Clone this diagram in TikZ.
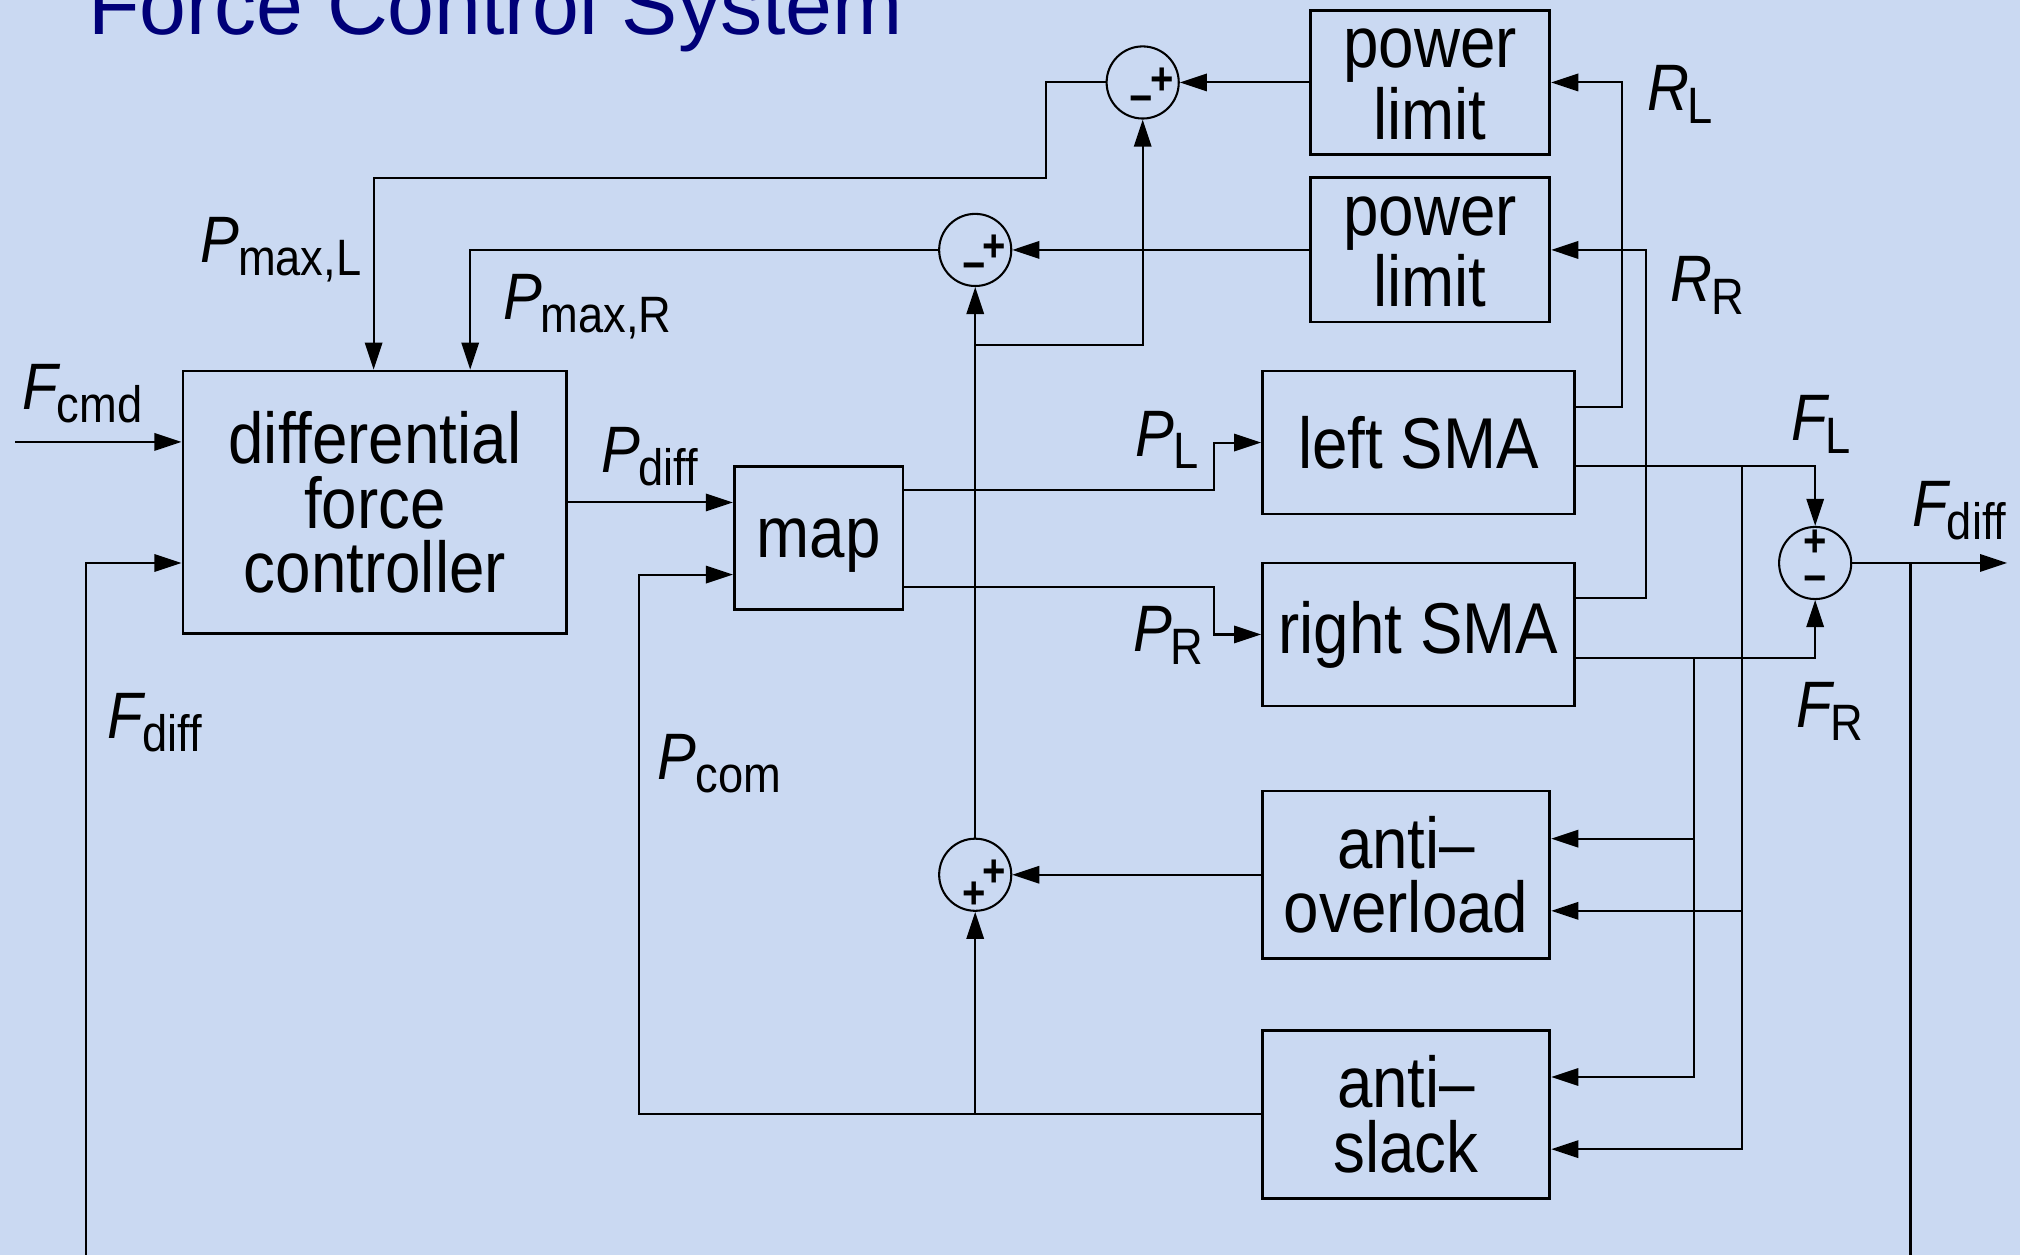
\documentclass[tikz,border=0pt]{standalone}
\usepackage{fontspec}
\newfontfamily\narrowfont{Liberation Sans}[FakeStretch=0.885]
\newfontfamily\titlefont{Liberation Sans}
\usetikzlibrary{arrows.meta,calc}
\definecolor{bgblue}{RGB}{202,217,242}
\definecolor{navy}{RGB}{0,0,120}
\newcommand\sg[2]{{\itshape #1}\kern-0.02em\raisebox{-1mm}{\fontsize{11.3}{11}\selectfont #2}}
\begin{document}
\begin{tikzpicture}[x=0.1mm,y=-0.1mm,
  blk/.style={draw, line width=0.22mm, rectangle, inner sep=0pt, align=center,
    font=\narrowfont\fontsize{15.9}{14.3}\selectfont},
  sumc/.style={draw, circle, line width=0.16mm, minimum size=5.6mm, inner sep=0pt},
  sgn/.style={inner sep=0pt, font=\narrowfont\bfseries\fontsize{10}{10}\selectfont},
  arr/.style={line width=0.16mm, -{Triangle[length=2.1mm,width=1.35mm]}},
  lbl/.style={anchor=base west, inner sep=0pt, font=\narrowfont\fontsize{14.5}{14}\selectfont}
]
\useasboundingbox (0,0) rectangle (1568,974);
\fill[bgblue] (0,0) rectangle (1568,974);
\clip (0,0) rectangle (1568,974);

% title
\node[anchor=base west, inner sep=0pt, text=navy, font=\titlefont\fontsize{18.6}{20}\selectfont] (title) at (68,27) {Force Control System};

% blocks
\node[blk, minimum width=29.8mm, minimum height=20.4mm] (dfc) at (291,390) {differential\\force\\controller};
\node[blk, minimum width=13.1mm, minimum height=11.1mm, text depth=0pt] (map) at (635.5,417.5) {map};
\node[blk, minimum width=18.6mm, minimum height=11.2mm, text height=8.9mm] (pl1) at (1110,64) {power\\limit};
\node[blk, minimum width=18.6mm, minimum height=11.2mm, text height=8.9mm] (pl2) at (1110,194) {power\\limit};
\node[blk, minimum width=24.2mm, minimum height=11.1mm] (lsma) at (1101,343.5) {left SMA};
\node[blk, minimum width=24.2mm, minimum height=11.1mm] (rsma) at (1101,492.5) {right SMA};
\node[blk, minimum width=22.3mm, minimum height=13mm] (aol) at (1091.5,679) {anti–\\overload};
\node[blk, minimum width=22.3mm, minimum height=13mm] (asl) at (1091.5,865) {anti–\\slack};

% summing junctions
\node[sumc] (s1) at (887,64) {};
\node[sumc] (s2) at (757,194) {};
\node[sumc] (s3) at (757,679) {};
\node[sumc] (s4) at (1409,437) {};
\node[sgn] (s1p) at ($(s1)+(15,-1)$) {+};
\node[sgn] (s1m) at ($(s1)+(-1,17)$) {−};
\node[sgn] (s2p) at ($(s2)+(15,-1)$) {+};
\node[sgn] (s2m) at ($(s2)+(-1,17)$) {−};
\node[sgn] (s3p) at ($(s3)+(15,-1)$) {+};
\node[sgn] (s3q) at ($(s3)+(-1,16)$) {+};
\node[sgn] (s4p) at ($(s4)+(0,-15)$) {+};
\node[sgn] (s4m) at ($(s4)+(0,17)$) {−};

% coordinates
\coordinate (fcmdin) at (12,343);
\coordinate (pcom) at (496,446);
\coordinate (j1) at (757,268);
\coordinate (fout) at (1558,437);
\coordinate (fbr) at (1483,437);
\coordinate (fbot) at (1483,1010);
\coordinate (fleft) at (67,1010);
\coordinate (fbin) at ($(dfc.west)+(0,47)$);
\coordinate (jl) at (1352,362);
\coordinate (jr) at (1315,511);

% connectors
\draw[arr] (fcmdin) -- (fcmdin -| dfc.west);
\draw[arr] (dfc.east) -- (dfc.east -| map.west);
\draw[arr] (asl.west) -| (pcom) -- (pcom -| map.west);
\draw[arr] (asl.west -| s3) -- (s3.south);
\draw[arr] (s3.north) -- (s2.south);
\draw[arr] (j1) -| (s1.south);
\draw[arr] (aol.west) -- (s3.east);
\draw[arr] (pl1.west) -- (s1.east);
\draw[arr] (pl2.west) -- (s2.east);
\draw[arr] (s1.west) -| (812,138) -| ($(dfc.north)+(-1,0)$);
\draw[arr] (s2.west) -| ($(dfc.north)+(74,0)$);
\draw[arr] ($(map.east)+(0,-37.5)$) -| (942,343.5) -- (lsma.west);
\draw[arr] ($(map.east)+(0,38.5)$) -| (942,492.5) -- (rsma.west);
\draw[arr] ($(lsma.east)+(0,-27.5)$) -| (1259,64) -- (pl1.east);
\draw[arr] ($(rsma.east)+(0,-28.5)$) -| (1278,194) -- (pl2.east);
\draw[arr] ($(lsma.east)+(0,18.5)$) -| (s4.north);
\draw[arr] ($(rsma.east)+(0,18.5)$) -| (s4.south);
\draw[arr] (jl) |- ($(asl.east)+(0,27)$);
\draw[arr] ($(jl |- aol.east)+(0,28)$) -- ($(aol.east)+(0,28)$);
\draw[arr] (jr) |- ($(asl.east)+(0,-29)$);
\draw[arr] ($(jr |- aol.east)+(0,-28)$) -- ($(aol.east)+(0,-28)$);
\draw[arr] (s4.east) -- (fout);
\draw[arr] (fbr) -- (fbot) -- (fleft) -- (fbin -| fleft) -- (fbin);

% labels
\node[lbl] (lfcmd) at (17,318) {\sg{F}{cmd}};
\node[lbl] (lpmaxl) at (155,204) {\sg{P}{max,L}};
\node[lbl] (lpmaxr) at (390,248) {\sg{P}{max,R}};
\node[lbl] (lpdiff) at (466,367) {\sg{P}{diff}};
\node[lbl] (lfdiff) at (83,573) {\sg{F}{diff}};
\node[lbl] (lpcom) at (510,605) {\sg{P}{com}};
\node[lbl] (lpl) at (881,354) {\sg{P}{L}};
\node[lbl] (lpr) at (879,506) {\sg{P}{R}};
\node[lbl] (lrl) at (1278,86) {\sg{R}{L}};
\node[lbl] (lrr) at (1296,234) {\sg{R}{R}};
\node[lbl] (lfl) at (1390,342) {\sg{F}{L}};
\node[lbl] (lfdiff2) at (1484,409) {\sg{F}{diff}};
\node[lbl] (lfr) at (1394,565) {\sg{F}{R}};
\end{tikzpicture}
\end{document}
